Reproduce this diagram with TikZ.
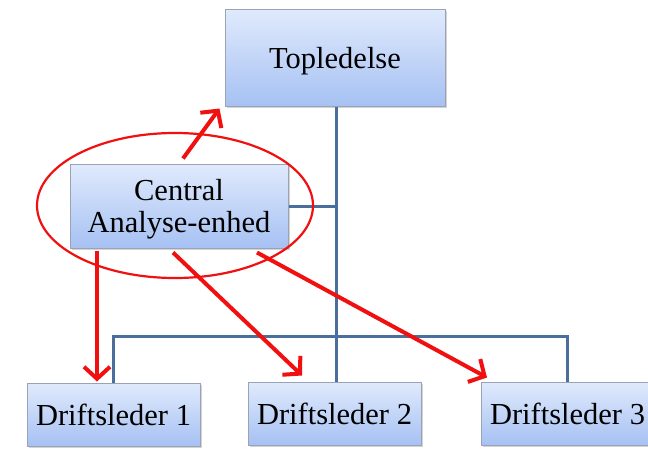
\documentclass[tikz,border=0pt]{standalone}
\usepackage{fontspec}
\setmainfont{Liberation Serif}
\usetikzlibrary{arrows.meta,shadows,calc}
\definecolor{boxtop}{HTML}{E0EAFC}
\definecolor{boxbot}{HTML}{A6C1F3}
\definecolor{boxline}{HTML}{9AA3B5}
\definecolor{orgline}{HTML}{4A6F9C}
\definecolor{redline}{HTML}{F01010}
\tikzset{
  orgbox/.style={rectangle, draw=boxline, line width=1pt, top color=boxtop, bottom color=boxbot,
    inner sep=0pt, align=center, font=\fontsize{30.5}{33}\selectfont,
    drop shadow={shadow xshift=1.5pt, shadow yshift=-2pt, opacity=0.35, fill=gray}},
  orgconn/.style={draw=orgline, line width=3pt},
  redarrow/.style={draw=redline, line width=4pt, -{Straight Barb[length=12pt,width=26pt]}},
  redring/.style={draw=redline, line width=2.2pt}
}
\begin{document}
\begin{tikzpicture}[x=1pt,y=-1pt]
\useasboundingbox (0,0) rectangle (648,450);
\coordinate (trunktop) at (336,106);
\coordinate (busmid) at (336,336);
\coordinate (busl) at (113.5,336);
\coordinate (busr) at (567.5,336);
% boxes
\node[orgbox, minimum width=220pt, minimum height=97pt] (top) at (335,57.5) {\raisebox{-3.5pt}[\height][\depth]{Topledelse}};
\node[orgbox, minimum width=218pt, minimum height=84pt] (cen) at (179,206) {\raisebox{-4pt}[\height][\depth]{\begin{tabular}{@{}c@{}}Central\\[-1pt]Analyse-enhed\end{tabular}}};
\node[orgbox, minimum width=173pt, minimum height=63pt] (d1) at (113.5,414.5) {Driftsleder 1};
\node[orgbox, minimum width=173pt, minimum height=63pt] (d2) at (334.5,413.5) {Driftsleder 2};
\node[orgbox, minimum width=173pt, minimum height=63pt] (d3) at (567.5,413.5) {Driftsleder 3};
% org lines
\draw[orgconn] (top.south -| trunktop) -- (busmid) -- (d2.north -| busmid);
\draw[orgconn] (cen.east) -- (cen.east -| trunktop);
\draw[orgconn] (d1.north) -- (busl) -- (busr) -- (d3.north);
% red ellipse
\draw[redring] (175,205.5) ellipse [x radius=138pt, y radius=72.5pt];
% red arrows
\draw[redarrow] ([xshift=4pt,yshift=5pt]cen.north) -- ([xshift=-5pt,yshift=-2pt]top.south west);
\draw[redarrow] ([xshift=-82pt,yshift=-2pt]cen.south) -- ([xshift=-16.5pt,yshift=1pt]d1.north);
\draw[redarrow] ([xshift=-6pt,yshift=-4pt]cen.south) -- ([xshift=-32.5pt,yshift=6pt]d2.north);
\draw[redarrow] ([xshift=78pt,yshift=-4pt]cen.south) -- ([xshift=-80.5pt,yshift=4pt]d3.north);
\end{tikzpicture}
\end{document}
